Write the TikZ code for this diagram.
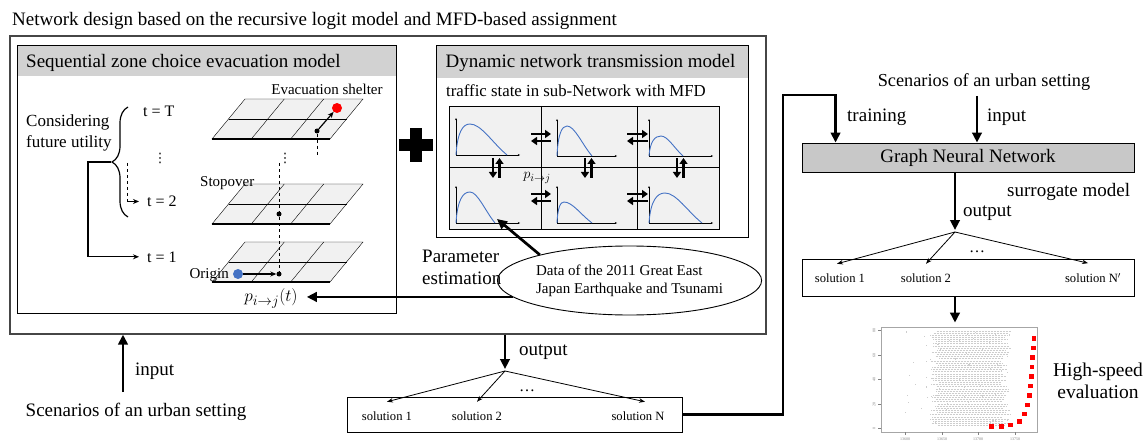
\documentclass[tikz,border=0pt]{standalone}
\usepackage{fontspec}
\setmainfont{Liberation Serif}
\newfontfamily\symfont{DejaVu Sans}
\usetikzlibrary{arrows.meta,shapes.geometric,decorations.pathreplacing}

\definecolor{hdrgray}{RGB}{210,210,210}
\definecolor{gnngray}{RGB}{200,200,200}
\definecolor{cellgray}{RGB}{241,241,241}
\definecolor{mfdblue}{RGB}{68,114,196}
\definecolor{framegray}{RGB}{70,70,70}
\definecolor{scatgray}{RGB}{205,205,205}

\newcommand{\setfs}[2]{\fontsize{#1}{#2}\selectfont}

% one floor of the zone grid, top edge at y=#1
\newcommand{\zonelayer}[1]{%
  \draw[fill=cellgray] (245,#1)--(363,#1)--(330,{#1+40})--(212,{#1+40})--cycle;
  \draw[line width=1.2pt] (212,{#1+40})--(330,{#1+40});
  \draw (228.5,{#1+20})--(346.5,{#1+20});
  \draw (284.3,#1)--(251.3,{#1+40}) (323.7,#1)--(290.7,{#1+40});
}
% small MFD: origin (#1,#2), peak (#3,#4), end x #5, axis end x #6
\newcommand{\mfdcurve}[6]{%
  \draw[axarr] (#1,#2)--(#6,#2);
  \draw[axarr] (#1,#2)--(#1,{#2-37});
  \draw[mfdblue,line width=0.9pt] (#1,#2) .. controls ({#1+0.1*(#3-#1)},{#4+0.25*(#2-#4)}) and ({#3-0.5*(#3-#1)},#4) .. (#3,#4)
    .. controls ({#3+0.3*(#5-#3)},#4) and ({#5-0.4*(#5-#3)},{#2-0.4*(#2-#4)}) .. (#5,#2);
}

\begin{document}
\begin{tikzpicture}[x=1pt,y=-1pt,
  box/.style={draw,line width=0.9pt,inner sep=0pt},
  hdr/.style={fill=hdrgray,inner sep=0pt},
  txtbig/.style={inner sep=0pt,font={\setfs{19}{21.7}}},
  txtmid/.style={inner sep=0pt,font={\setfs{16}{19}}},
  txtsmall/.style={inner sep=0pt,font={\setfs{15}{18.3}}},
  soltxt/.style={inner sep=0pt,font={\setfs{12.6}{15}}},
  vdot/.style={inner sep=0pt,font={\symfont\setfs{13}{15}}},
  dot/.style={circle,fill=black,inner sep=0pt,minimum size=5pt},
  bigarr/.style={line width=2.7pt,-{Triangle[length=10pt,width=9.5pt]}},
  fanarr/.style={line width=0.8pt,-{Stealth[length=6pt,width=4.5pt]}},
  smallarr/.style={line width=1.2pt,-{Stealth[length=6pt,width=5pt]}},
  dblarr/.style={line width=2.6pt,-{Triangle[length=6pt,width=8pt]}},
  axarr/.style={line width=0.4pt,-{Stealth[length=2.2pt,width=2pt]}}]
\useasboundingbox (0,0) rectangle (1144,441);

\node[txtbig,anchor=base west] (title) at (12,26) {Network design based on the recursive logit model and MFD-based assignment};
\node[box,draw=framegray,line width=1.2pt,minimum width=756,minimum height=298] (outer) at (388,185) {};

% sequential zone choice
\node[hdr,minimum width=379,minimum height=31] (seqhdr) at (206.5,60.5) {};
\node[txtbig,anchor=base west] (seqtitle) at (26,68) {Sequential zone choice evacuation model};
\node[box,minimum width=379,minimum height=268] (seq) at (206.5,179) {};

\node[inner sep=0pt,font={\setfs{17}{20.6}},anchor=west,align=left] (consider) at (26,133) {Considering\\future utility};
\coordinate (bTop) at (128,107);
\coordinate (bBot) at (128,217);
\draw[line width=1.2pt,decorate,decoration={brace,amplitude=16pt}] (bBot) -- (bTop);
\coordinate (btip) at (111,162);
\node[txtmid,anchor=base west] (tT) at (143,117) {t = T};
\node[txtmid,anchor=base west] (t2) at (147,206.7) {t = 2};
\node[txtmid,anchor=base west] (t1) at (147,262) {t = 1};
\draw[smallarr] (btip) -- ++(-23,0) |- ([xshift=-8pt]t1.west);
\coordinate (dtop) at (127,163);
\draw[dashed,line width=0.9pt] (dtop) -- (dtop |- t2.west);
\draw[smallarr] (dtop |- t2.west) -- ([xshift=-8pt]t2.west);
\node[vdot] (vd1) at (160,158) {⋮};
\node[vdot] (vd2) at (285,158) {⋮};

\zonelayer{99}
\zonelayer{184}
\zonelayer{242}
\node[circle,fill=red,inner sep=0pt,minimum size=10pt] (shelter) at (337,108) {};
\node[dot] (j3) at (317,131) {};
\draw[smallarr] (j3) -- (shelter);
\draw[dashed,line width=0.9pt] (j3) -- ++(0,26);
\coordinate (vtop) at (279,163);
\node[dot] (j2) at (279,214) {};
\node[dot] (j1) at (279,274) {};
\draw[dashed,line width=0.9pt] (vtop) -- (j1);
\node[circle,fill=mfdblue,inner sep=0pt,minimum size=10pt] (orig) at (238,274) {};
\draw[smallarr] (orig) -- (j1);
\node[txtsmall,anchor=base] (shelterlbl) at (327,95) {Evacuation shelter};
\node[txtsmall,anchor=base west] (stoplbl) at (200,186.7) {Stopover};
\node[txtsmall,anchor=base east] (origlbl) at (229,278.3) {Origin};
\node[inner xsep=9pt,inner ysep=0pt,font={\setfs{19}{22}},anchor=base] (pij) at (271,301.7) {$p_{i\to j}(t)$};

% plus
\fill (399,139) rectangle (433,151);
\fill (410,128) rectangle (422,162);

% dynamic network transmission
\node[hdr,minimum width=312,minimum height=33] (dnhdr) at (592,61.5) {};
\node[txtbig,anchor=base] (dntitle) at (590.5,68) {Dynamic network transmission model};
\node[box,minimum width=312,minimum height=192] (dn) at (592,141) {};
\node[inner sep=0pt,font={\setfs{16.8}{19}},anchor=base west] (traffic) at (446,96.5) {traffic state in sub-Network with MFD};
\node[draw,fill=cellgray,line width=0.8pt,minimum width=270,minimum height=123,inner sep=0pt] (grid) at (584,167.5) {};
\draw[line width=0.8pt] (541,106)--(541,229) (637,106)--(637,229) (449,167)--(719,167);
\mfdcurve{456}{155}{470}{124}{507}{520}
\mfdcurve{557}{156}{567}{126}{592}{617}
\mfdcurve{649}{156}{661}{136}{683}{713}
\mfdcurve{456}{223}{470}{192}{495}{520}
\mfdcurve{557}{223}{564}{202}{592}{617}
\mfdcurve{649}{223}{665}{193}{702}{713}
\foreach \xa/\xb/\ya in {531/551/134,627/648/134,531/551/194,627/648/194}{
  \draw[dblarr] (\xa,\ya)--(\xb,\ya);
  \draw[dblarr] (\xb,\ya+7)--(\xa,\ya+7);
}
\foreach \xa in {493,585,677}{
  \draw[dblarr] (\xa,158)--(\xa,178);
  \draw[dblarr] (\xa+6.5,178)--(\xa+6.5,158);
}
\node[inner sep=0pt,font={\setfs{15}{17}}] (pijsmall) at (537,178) {$p_{i\to j}$};

% data and estimation
\node[ellipse,draw,line width=0.9pt,fill=white,minimum width=247pt,minimum height=69pt,inner sep=0pt,font={\setfs{15}{18.3}},align=left] (data) at (629.5,280.5) {Data of the 2011 Great East\\Japan Earthquake and Tsunami};
\coordinate (mfdpt) at (497,219);
\draw[bigarr] (data.164) -- (mfdpt);
\draw[bigarr] (data.188) -- (data.188 -| pij.east);
\node[txtbig,anchor=west,align=left] (param) at (422,267.7) {Parameter\\estimation};

% output of the simulation
\coordinate (fanA) at (505,371);
\draw[bigarr,shorten >=2pt] (fanA |- outer.south) -- (fanA);
\node[txtbig,anchor=base west] (out1) at (519,355) {output};
\node[box,minimum width=335,minimum height=35] (sol) at (514.5,414.5) {};
\node[soltxt,anchor=base] (s1) at (387,420.7) {solution 1};
\node[soltxt,anchor=base] (s2) at (477,420.7) {solution 2};
\node[soltxt,anchor=base] (sN) at (638,420.7) {solution N};
\draw[fanarr] (fanA) -- ([yshift=10pt]s1.north);
\draw[fanarr] (fanA) -- ([yshift=10pt]s2.north);
\draw[fanarr] (fanA) -- ([xshift=7pt,yshift=10pt]sN.north);
\node[inner sep=0pt,font={\setfs{16}{18}},anchor=base] (dotsA) at (527,391.7) {\dots};

% input on the left
\coordinate (inL) at (123,392);
\draw[bigarr] (inL) -- (inL |- outer.south);
\node[txtbig,anchor=base west] (inlblL) at (135,375) {input};
\node[txtbig,anchor=base] (scen1) at (136,416.7) {Scenarios of an urban setting};

% surrogate
\node[draw,fill=gnngray,line width=0.9pt,minimum width=332,minimum height=29,inner sep=0pt,font={\setfs{19}{22}}] (gnn) at (968,157.5) {Graph Neural Network};
\coordinate (corner) at (783,95);
\draw[bigarr] (sol.east) -| (corner) -| ([xshift=34pt]gnn.north west);
\node[txtbig,anchor=base west] (trainlbl) at (847,121.7) {training};
\node[inner sep=0pt,font={\setfs{18.3}{21}},anchor=base] (scen2) at (984,86.7) {Scenarios of an urban setting};
\coordinate (inR) at (977,96);
\draw[bigarr] (inR) -- (inR |- gnn.north);
\node[txtbig,anchor=base west] (inlblR) at (987,121.7) {input};
\node[txtbig,anchor=base west] (surr) at (1007,196.7) {surrogate model};
\coordinate (fanB) at (955,232);
\draw[bigarr,shorten >=2pt] (gnn.south -| fanB) -- (fanB);
\node[txtbig,anchor=base west] (out2) at (963,216.7) {output};
\node[box,minimum width=332,minimum height=37] (solg) at (968,277.5) {};
\node[soltxt,anchor=base] (g1) at (840,282.7) {solution 1};
\node[soltxt,anchor=base] (g2) at (926,282.7) {solution 2};
\node[soltxt,anchor=base] (gN) at (1093,282.7) {solution N$'$};
\draw[fanarr] (fanB) -- ([xshift=-3pt,yshift=10pt]g1.north);
\draw[fanarr] (fanB) -- ([yshift=10pt]g2.north);
\draw[fanarr] (fanB) -- ([xshift=-5pt,yshift=10pt]gN.north);
\node[inner sep=0pt,font={\setfs{16}{18}},anchor=base] (dotsB) at (977,252.7) {\dots};

% pareto plot
\node[draw=gray!70,line width=0.8pt,minimum width=156,minimum height=105,inner sep=0pt] (scat) at (959,379.5) {};
\draw[bigarr,shorten >=4pt] (solg.south -| fanB) -- (fanB |- scat.north);
\pgfmathsetseed{11}
\foreach \r in {0,...,44}{
  \pgfmathsetmacro\yy{331+2.15*\r}
  \pgfmathsetmacro\xa{930+10*rnd}
  \pgfmathsetmacro\xb{1000+12*rnd}
  \draw[scatgray,line width=1pt,dash pattern=on 1pt off 0.5pt] (\xa,\yy)--(\xb,\yy);
}
\foreach \i in {1,...,70}{
  \pgfmathsetmacro\px{905+105*rnd}
  \pgfmathsetmacro\py{330+94*rnd}
  \fill[scatgray] (\px,\py) rectangle ++(1.1,1.1);
}
\foreach \p in {(991.7,426.7),(1001.7,426.7),(1010.7,425),(1019.3,421.7),(1024.7,414),(1027.7,405),(1029.3,395.7),(1030.3,386),(1031.3,376.7),(1032,367),(1032.7,357.7),(1033.3,348),(1034,338.3)}
  \fill[red] \p ++(-2.4,-2.4) rectangle ++(4.8,4.8);
\foreach \yv/\lab in {428/0,404/20,379/40,355/60,330/80}{
  \draw[gray,line width=0.4pt] (881,\yv)--(878,\yv);
  \node[gray,inner sep=0pt,font={\setfs{4}{5}},rotate=90] at (874,\yv) {\lab};
}
\foreach \xv/\lab in {905/13600,942/13650,978/13700,1015/13750}{
  \draw[gray,line width=0.4pt] (\xv,432)--(\xv,435);
  \node[gray,inner sep=0pt,font={\setfs{4}{5}}] at (\xv,439) {\lab};
}
\node[inner sep=0pt,font={\setfs{19.5}{22.3}},align=center] (hs) at (1098,380.7) {High-speed\\evaluation};
\end{tikzpicture}
\end{document}
